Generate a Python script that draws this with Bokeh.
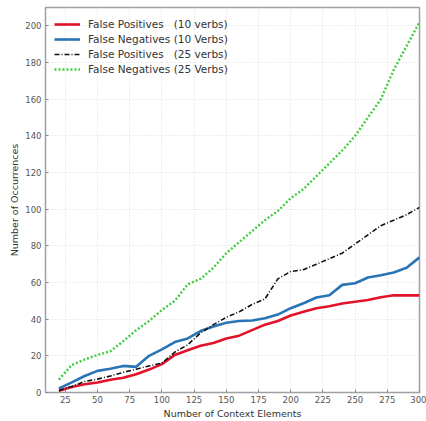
from bokeh.plotting import figure
from bokeh.embed import file_html
from bokeh.resources import INLINE
from bokeh.models import FixedTicker, Legend, LegendItem

context_elements = [20, 30, 40, 50, 60, 70, 80, 90, 100, 110, 120, 130, 140, 150,
                    160, 170, 180, 190, 200, 210, 220, 230, 240, 250, 260, 270, 280, 290, 300]
fp_10 = [1, 3, 4.5, 5.5, 7, 8, 10, 12.5, 15.5, 20.5, 23, 25.5, 27, 29.5,
         31, 34, 37, 39, 42, 44, 46, 47, 48.5, 49.5, 50.5, 52, 53, 53, 53]
fn_10 = [2.2, 5.5, 9, 11.8, 13, 14.5, 14, 20, 23.5, 27.5, 29.5, 33.5, 36, 38,
         39, 39.3, 40.5, 42.5, 46, 48.7, 51.8, 53, 58.7, 59.6, 62.7, 64, 65.5, 68, 73.7]
fp_25 = [1, 3.3, 6, 7.3, 9, 11, 12.7, 14.5, 16, 22, 26, 32.5, 37, 41,
         44, 48, 51, 62, 66, 67, 70, 73, 76, 81, 86, 91, 94, 97, 101]
fn_25 = [7, 15, 18, 20.5, 22.5, 28, 34, 39, 45, 50, 59, 62, 68, 76,
         82, 88, 94, 99, 106, 111, 118, 125, 132, 140, 150, 160, 176, 189, 202]
x_ticks = [25, 50, 75, 100, 125, 150, 175, 200, 225, 250, 275, 300]
y_ticks = [0, 20, 40, 60, 80, 100, 120, 140, 160, 180, 200]
labels = ["False Positives   (10 verbs)", "False Negatives (10 Verbs)",
          "False Positives   (25 verbs)", "False Negatives (25 Verbs)"]

FONT = "DejaVu Sans"

p = figure(width=426, height=421, x_range=(9.6, 300), y_range=(0, 210),
           output_backend="svg", toolbar_location=None,
           min_border_left=45, min_border_right=7, min_border_top=7, min_border_bottom=28)
p.background_fill_color = "white"
p.border_fill_color = "white"
p.outline_line_color = "#a0a0a0"
p.outline_line_width = 1.5

r1 = p.line(context_elements, fp_10, line_color="#e3122b", line_width=2.6)
r2 = p.line(context_elements, fn_10, line_color="#2874b4", line_width=2.6)
r3 = p.line(context_elements, fp_25, line_color="#111111", line_width=1.6, line_dash="5 2 1 2")
r4 = p.line(context_elements, fn_25, line_color="#3fcc3f", line_width=2.4, line_dash="2 2")

legend = Legend(items=[LegendItem(label=labels[0], renderers=[r1]),
                       LegendItem(label=labels[1], renderers=[r2]),
                       LegendItem(label=labels[2], renderers=[r3]),
                       LegendItem(label=labels[3], renderers=[r4])],
                location=(9, 316))
legend.border_line_color = None
legend.background_fill_alpha = 0
legend.margin = 0
legend.padding = 0
legend.spacing = 1
legend.glyph_width = 26
legend.glyph_height = 14
legend.label_height = 14
legend.label_standoff = 8
legend.label_text_font = FONT
legend.label_text_font_size = "10.5px"
legend.label_text_color = "#333333"
p.add_layout(legend)

p.xaxis.ticker = FixedTicker(ticks=x_ticks)
p.yaxis.ticker = FixedTicker(ticks=y_ticks)
for ax in (p.xaxis, p.yaxis):
    ax.axis_line_color = None
    ax.major_tick_line_color = "#888888"
    ax.major_tick_in = 3
    ax.major_tick_out = 0
    ax.minor_tick_line_color = None
    ax.major_label_text_font = FONT
    ax.major_label_text_font_size = "8.5px"
    ax.major_label_text_color = "#555555"
    ax.axis_label_text_font = FONT
    ax.axis_label_text_font_size = "9.5px"
    ax.axis_label_text_font_style = "normal"
    ax.axis_label_text_color = "#333333"
p.xaxis.axis_label = "Number of Context Elements"
p.yaxis.axis_label = "Number of Occurrences"
p.xaxis.major_label_standoff = 3
p.xaxis.axis_label_standoff = 2
p.yaxis.major_label_standoff = 4
p.yaxis.axis_label_standoff = 2

p.grid.grid_line_color = "#dddddd"
p.grid.grid_line_dash = "1 2"
p.grid.grid_line_width = 1

open("out.html", "w").write(file_html(p, INLINE))
